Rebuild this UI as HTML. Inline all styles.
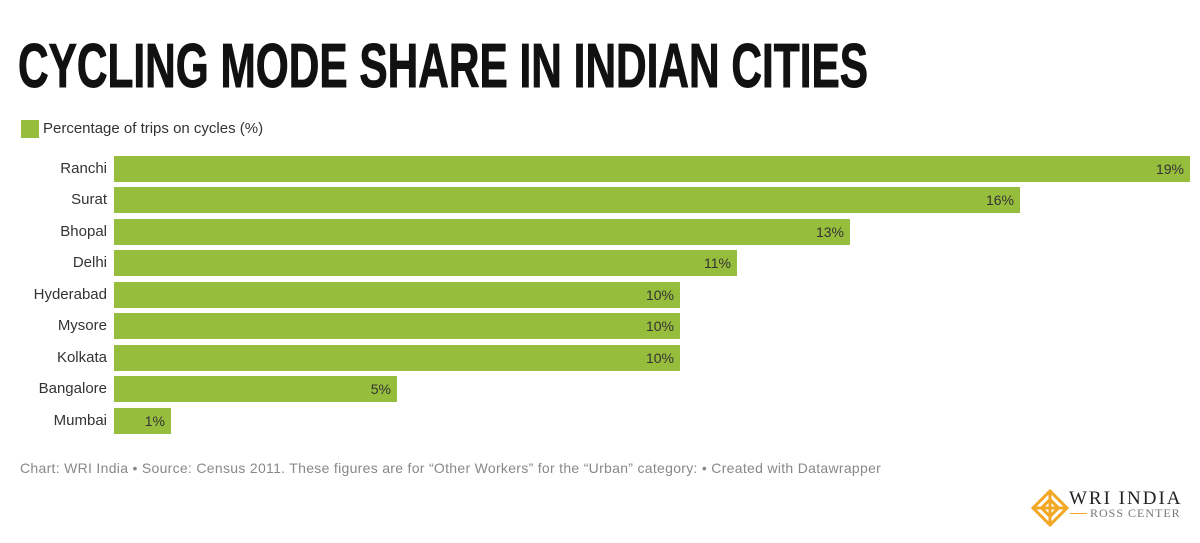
<!DOCTYPE html>
<html><head><meta charset="utf-8"><style>
body{margin:0;background:#fff;width:1200px;height:543px;overflow:hidden;font-family:"Liberation Sans",sans-serif;position:relative}
.lab{position:absolute;right:1093px;font-size:15px;color:#333;line-height:26px;text-align:right;white-space:nowrap}
.bar{position:absolute;left:114px;height:26px;background:#97bd3d}
.val{position:absolute;font-size:14px;color:#333;line-height:26px;text-align:right}
</style></head><body>
<svg width="1200" height="110" style="position:absolute;left:0;top:0">
<text x="18" y="87" font-family="Liberation Sans Narrow, Liberation Sans, sans-serif" font-weight="bold" font-size="62" textLength="850" lengthAdjust="spacingAndGlyphs" fill="#111" stroke="#111" stroke-width="1">CYCLING MODE SHARE IN INDIAN CITIES</text>
</svg>
<div style="position:absolute;left:21px;top:120px;width:18px;height:18px;background:#97bd3d"></div>
<div style="position:absolute;left:43px;top:120px;font-size:15px;color:#333;line-height:18px">Percentage of trips on cycles (%)</div>

<div class="lab" style="top:156px">Ranchi</div><div class="bar" style="top:156px;width:1076px"></div><div class="val" style="top:156px;left:1100px;width:84px">19%</div>
<div class="lab" style="top:187px">Surat</div><div class="bar" style="top:187px;width:906px"></div><div class="val" style="top:187px;left:930px;width:84px">16%</div>
<div class="lab" style="top:219px">Bhopal</div><div class="bar" style="top:219px;width:736px"></div><div class="val" style="top:219px;left:760px;width:84px">13%</div>
<div class="lab" style="top:250px">Delhi</div><div class="bar" style="top:250px;width:623px"></div><div class="val" style="top:250px;left:647px;width:84px">11%</div>
<div class="lab" style="top:282px">Hyderabad</div><div class="bar" style="top:282px;width:566px"></div><div class="val" style="top:282px;left:590px;width:84px">10%</div>
<div class="lab" style="top:313px">Mysore</div><div class="bar" style="top:313px;width:566px"></div><div class="val" style="top:313px;left:590px;width:84px">10%</div>
<div class="lab" style="top:345px">Kolkata</div><div class="bar" style="top:345px;width:566px"></div><div class="val" style="top:345px;left:590px;width:84px">10%</div>
<div class="lab" style="top:376px">Bangalore</div><div class="bar" style="top:376px;width:283px"></div><div class="val" style="top:376px;left:307px;width:84px">5%</div>
<div class="lab" style="top:408px">Mumbai</div><div class="bar" style="top:408px;width:57px"></div><div class="val" style="top:408px;left:81px;width:84px">1%</div>

<div style="position:absolute;left:20px;top:460px;font-size:14px;letter-spacing:0.3px;color:#888;white-space:nowrap">Chart: WRI India • Source: Census 2011. These figures are for “Other Workers” for the “Urban” category: • Created with Datawrapper</div>

<svg width="40" height="40" style="position:absolute;left:1030px;top:488px" viewBox="0 0 40 40">
<g fill="none" stroke="#f2a825" stroke-width="3">
<rect x="8" y="8" width="24" height="24" transform="rotate(45 20 20)"/>
<rect x="14" y="14" width="12" height="12" transform="rotate(45 20 20)"/>
<line x1="4" y1="20" x2="36" y2="20"/><line x1="20" y1="4" x2="20" y2="36"/>
</g></svg>
<div style="position:absolute;left:1069px;top:488px;font-family:'Liberation Serif',serif;font-size:19px;letter-spacing:2px;color:#222">WRI INDIA</div>
<div style="position:absolute;left:1070px;top:513px;width:17px;height:1px;background:#f2a825"></div>
<div style="position:absolute;left:1090px;top:506px;font-family:'Liberation Serif',serif;font-size:12px;letter-spacing:1px;color:#777">ROSS CENTER</div>
</body></html>
